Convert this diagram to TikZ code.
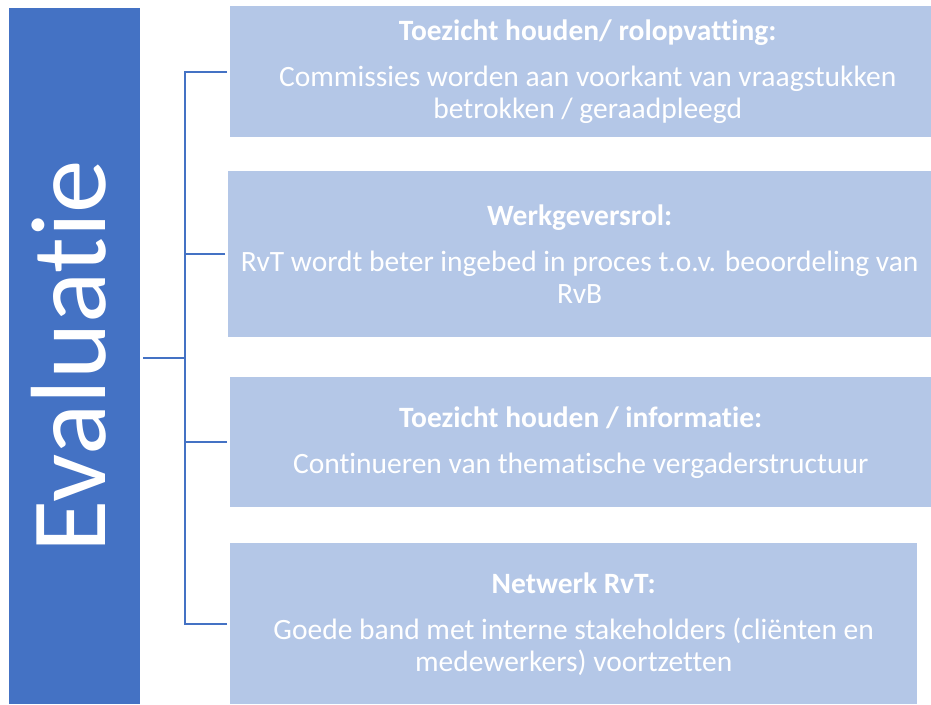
\documentclass[tikz,border=0pt]{standalone}
\usepackage{fontspec}
\setmainfont{Carlito}[Ligatures=NoCommon]
\usetikzlibrary{positioning}
\definecolor{donker}{HTML}{4472C4}
\definecolor{licht}{HTML}{B4C7E7}
\tikzset{
  blok/.style={fill=licht, text=white, anchor=north west, align=center, inner sep=0pt, font=\fontsize{29.5}{32}\selectfont},
  lijn/.style={draw=donker, line width=2pt}
}
\newcommand{\kop}[1]{\textbf{#1}\\[14pt]}
\begin{document}
\begin{tikzpicture}[x=1pt,y=-1pt]
	\useasboundingbox (0,0) rectangle (931,704);
	\node[fill=donker, anchor=north west, minimum width=131pt, minimum height=696pt, inner sep=0pt] (eval) at (9,8) {};
	\node[rotate=90, anchor=base, text=white, font=\fontsize{107}{110}\selectfont] (evaltxt) at (105,356) {Evaluatie};
	\node[blok, minimum width=715pt, minimum height=131pt] (b1) at (230,6) {\kop{Toezicht houden/ rolopvatting:}Commissies worden aan voorkant van vraagstukken\\betrokken / geraadpleegd};
	\node[blok, minimum width=703pt, minimum height=166pt] (b2) at (228,171) {\kop{Werkgeversrol:}RvT wordt beter ingebed in proces t.o.v. beoordeling van\\RvB};
	\node[blok, minimum width=701pt, minimum height=130pt] (b3) at (230,377) {\kop{Toezicht houden / informatie:}Continueren van thematische vergaderstructuur};
	\node[blok, minimum width=687pt, minimum height=161pt] (b4) at (230,543) {\kop{Netwerk RvT:}Goede band met interne stakeholders (cliënten en\\medewerkers) voortzetten};
	\coordinate (spine) at (185,358);
	\draw[lijn] ([xshift=3pt]eval.east |- spine) -- (spine);
	\foreach \b in {b1,b2,b3,b4}
		\draw[lijn] ([xshift=-3pt]\b.west) -| (spine);
\end{tikzpicture}
\end{document}
